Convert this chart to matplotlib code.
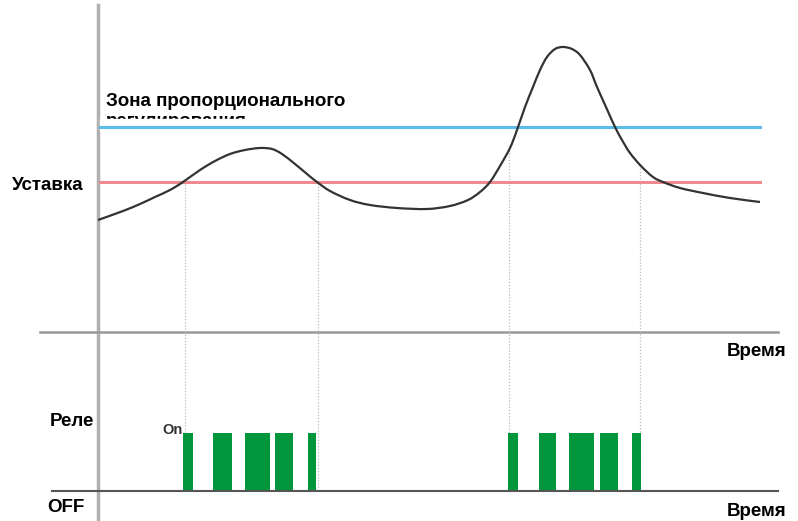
import numpy as np
import matplotlib.pyplot as plt
from matplotlib.patches import Rectangle, PathPatch
from matplotlib.path import Path

# process curve (x = time, y = value, screen units, y grows downward)
curve_x = [98, 123, 140, 155, 170, 183, 200, 215, 230, 245, 260, 272, 282, 295, 307, 317,
           330, 350, 370, 397, 427, 450, 468, 480, 490, 500, 510, 517, 525, 533, 540, 547, 555,
           563, 572, 580, 590, 597, 606, 615, 622, 630, 641, 653, 663, 680, 703, 730, 760]
curve_y = [220, 211, 204, 197, 190, 182, 170, 161, 154, 150, 148, 149, 154, 164, 174, 182,
           191, 200, 205, 208, 209, 206, 200, 192, 182, 166, 148, 130, 107, 87, 70, 57, 49,
           47, 49, 55, 70, 87, 107, 127, 140, 153, 166, 177, 182, 188, 193, 198, 202]

setpoint = 182
prop_band = 127

# relay "on" intervals
on_start = [183, 213, 245, 275, 308, 508, 539, 569, 600, 632]
on_end = [193, 232, 270, 293, 316, 518, 556, 594, 618, 641]

# moments where the dotted guides drop down
switch_x = [185, 318, 509, 640]

W, H = 798, 521
fig = plt.figure(figsize=(W / 100, H / 100), dpi=100)
ax = fig.add_axes([0, 0, 1, 1])
ax.set_xlim(0, W)
ax.set_ylim(H, 0)
ax.axis('off')

base_top = 332
base_bot = 491
relay_top = 433

# axes
ax.plot([98, 98], [5, H], color='#b0b0b0', lw=2.5, zorder=1)
ax.plot([40, 778], [base_top, base_top], color='#999999', lw=1.8, zorder=1)
ax.plot([52, 778], [base_bot, base_bot], color='#555555', lw=1.5, zorder=3)

# guide lines
for sx in switch_x:
    top = np.interp(sx, curve_x, curve_y)
    ax.plot([sx, sx], [top, base_bot], color='#bbbbbb', lw=0.9, ls=(0, (1, 1.5)), zorder=1)

# setpoint and proportional band
ax.plot([100, 760], [setpoint, setpoint], color='#f08a8e', lw=2.2, zorder=2)

fs = 13.5
txt_font = dict(family=['Liberation Sans', 'DejaVu Sans'], fontweight='bold', color='black')
ax.text(106, 101, 'Зона пропорционального', fontsize=fs, va='center', ha='left', **txt_font)
ax.text(106, 121, 'регулирования', fontsize=fs, va='center', ha='left', zorder=1, **txt_font)
ax.add_patch(Rectangle((100, 118.5), 320, 12, color='white', zorder=1.5))
ax.plot([100, 760], [prop_band, prop_band], color='#5bbde8', lw=2.2, zorder=2)

# smooth stroke through the read points (Catmull-Rom drawn as cubic Bezier)
pts = np.column_stack([curve_x, curve_y]).astype(float)
verts = [pts[0]]
codes = [Path.MOVETO]
for i in range(len(pts) - 1):
    p0 = pts[max(i - 1, 0)]
    p1 = pts[i]
    p2 = pts[i + 1]
    p3 = pts[min(i + 2, len(pts) - 1)]
    verts += [p1 + (p2 - p0) / 6, p2 - (p3 - p1) / 6, p2]
    codes += [Path.CURVE4] * 3
ax.add_patch(PathPatch(Path(verts, codes), fill=False, edgecolor='#333333', lw=1.6, zorder=4))

# relay
widths = np.array(on_end) - np.array(on_start)
ax.bar(on_start, relay_top - base_bot, width=widths, bottom=base_bot, align='edge',
       color='#00963c', zorder=2)

ax.text(12, 185, 'Уставка', fontsize=fs, va='center', ha='left', **txt_font)
ax.text(727, 351, 'Время', fontsize=fs, va='center', ha='left', **txt_font)
ax.text(50, 421, 'Реле', fontsize=fs, va='center', ha='left', **txt_font)
ax.text(47, 507, 'OFF', fontsize=fs, va='center', ha='left', **txt_font)
ax.text(727, 512, 'Время', fontsize=fs, va='center', ha='left', **txt_font)
ax.text(162, 430, 'On', fontsize=10.5, va='center', ha='left', color='#333333',
        fontweight='bold', family=['Liberation Sans', 'DejaVu Sans'], zorder=1)

fig.savefig('out.png', dpi=100, facecolor='white')
